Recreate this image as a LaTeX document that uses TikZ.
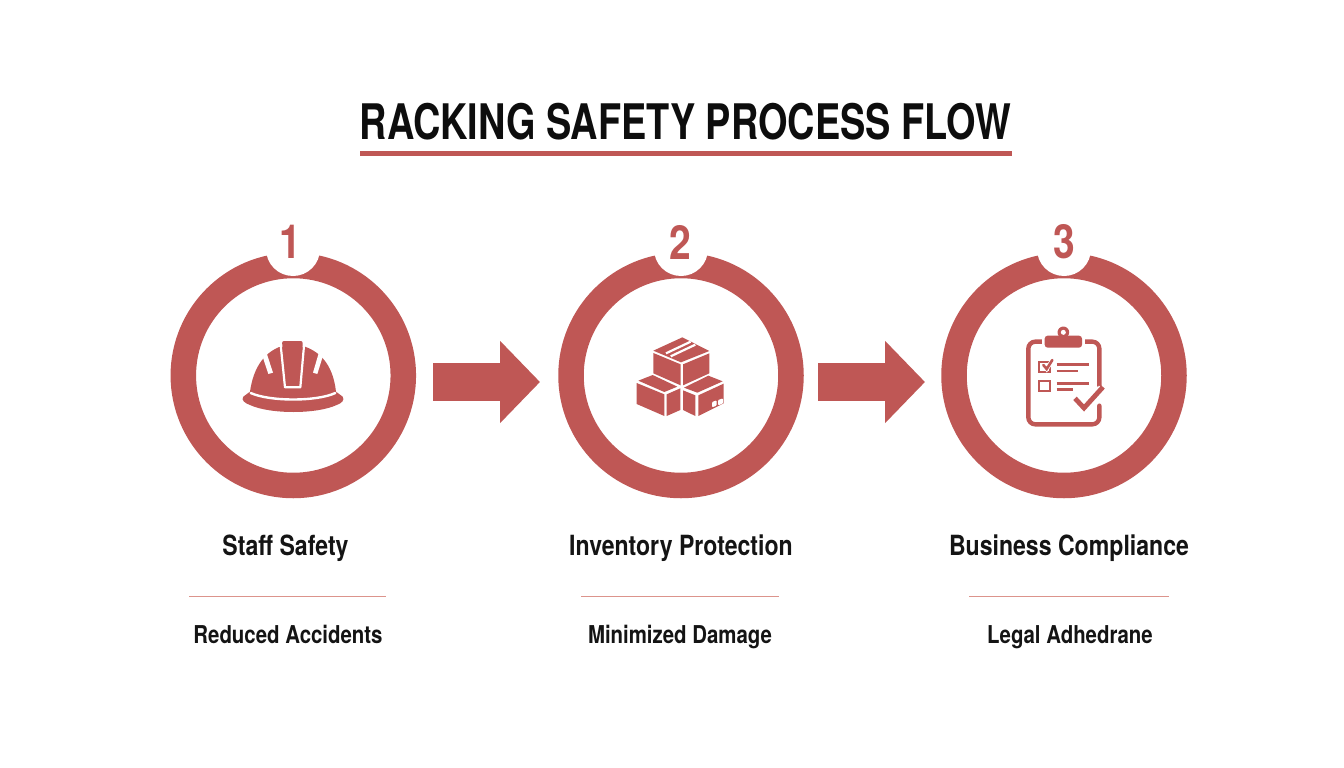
\documentclass[tikz,border=0pt]{standalone}
\usepackage{fontspec}
\setmainfont[FakeStretch=0.83]{TeX Gyre Heros}
\newfontfamily\titlefont[FakeStretch=0.773]{TeX Gyre Heros}
\usetikzlibrary{arrows.meta}
\definecolor{brick}{HTML}{BF5755}
\definecolor{rulered}{HTML}{DC948C}
\tikzset{
  ringnode/.style={circle,draw=brick,line width=25.5pt,minimum size=220pt,inner sep=0pt,outer sep=0pt},
  notchnode/.style={circle,fill=white,minimum size=54pt,inner sep=0pt,outer sep=0pt},
  numnode/.style={text=brick,font=\fontsize{47}{47}\selectfont\bfseries,inner sep=0pt},
  headnode/.style={anchor=base,text=black!92,font=\fontsize{27.8}{30}\selectfont\bfseries,inner sep=0pt},
  subnode/.style={anchor=base,text=black!92,font=\fontsize{24.6}{28}\selectfont\bfseries,inner sep=0pt},
  flow/.style={draw=brick,line width=38pt,-{Triangle[length=40pt,width=80pt]}},
  sep/.style={draw=rulered,line width=1pt},
  icon/.style={x=0.33333pt,y=-0.33333pt},
  cut/.style={draw=white,line width=2.2pt},
  inkline/.style={draw=brick,line cap=round},
}
\begin{document}
\begin{tikzpicture}[x=1pt,y=-1pt]
\useasboundingbox (0,0) rectangle (1344,768);
% title
\node[text=black!95,font=\fontsize{49}{52}\titlefont\bfseries,inner sep=0pt] (title) at (685.5,122) {RACKING SAFETY PROCESS FLOW};
\fill[brick] (360,151) rectangle (1012,156);
% rings
\node[ringnode] (r1) at (293.3,375.5) {};
\node[ringnode] (r2) at (681,375.5) {};
\node[ringnode] (r3) at (1064,375.5) {};
\node[notchnode] (n1) at (293,249) {};
\node[notchnode] (n2) at (681,249) {};
\node[notchnode] (n3) at (1064,249) {};
\node[numnode] (d1) at (290,242) {1};
\node[numnode] (d2) at (680,242) {2};
\node[numnode] (d3) at (1064,242) {3};
% arrows
\coordinate (a1s) at (433,382);
\coordinate (a1e) at (540,382);
\coordinate (a2s) at (818,382);
\coordinate (a2e) at (925,382);
\draw[flow] (a1s) -- (a1e);
\draw[flow] (a2s) -- (a2e);
% helmet
\begin{scope}[shift={(230,325)},icon]
\fill[brick] (60,200) .. controls (70,130) and (100,85) .. (150,65) -- (225,65) .. controls (280,85) and (310,130) .. (318,200)
  -- (338,215) .. controls (345,225) and (335,235) .. (320,240) .. controls (260,268) and (120,268) .. (60,240) .. controls (45,235) and (32,225) .. (40,215) -- cycle;
\fill[white] (97,92) -- (110,85) -- (129,143) -- (115,147) -- cycle;
\fill[white] (279,92) -- (266,85) -- (249,143) -- (262,147) -- cycle;
\draw[cut,line join=round] (151,50) -- (165,187) -- (211,187) -- (223,50);
\fill[white] (148,40) rectangle (160,66);
\fill[white] (214,40) rectangle (226,66);
\fill[brick,rounded corners=2pt] (156,48) -- (218,48) -- (218,62) -- (204,180) -- (172,180) -- (157,62) -- cycle;
\draw[white,line width=2.4pt,line cap=round] (62,204) .. controls (120,230) and (260,230) .. (316,204);
\end{scope}
% boxes
\begin{scope}[shift={(620,320)},icon]
\fill[brick] (100,92) -- (187,52) -- (268,93) -- (183,127) -- cycle;
\fill[brick] (100,99) -- (182,133) -- (182,196) -- (100,160) -- cycle;
\fill[brick] (189,133) -- (268,100) -- (268,160) -- (189,196) -- cycle;
\draw[white,line width=2.2pt] (138,100) -- (212,65);
\draw[white,line width=2.2pt] (152,109) -- (226,74);
\fill[brick] (55,182) -- (98,165) -- (172,200) -- (133,216) -- cycle;
\fill[brick] (50,189) -- (133,223) -- (133,288) -- (50,252) -- cycle;
\fill[brick] (140,223) -- (181,205) -- (181,270) -- (140,288) -- cycle;
\fill[brick] (192,203) -- (265,167) -- (308,184) -- (232,218) -- cycle;
\fill[brick] (189,211) -- (226,226) -- (226,288) -- (189,270) -- cycle;
\fill[brick] (235,226) -- (311,191) -- (311,250) -- (235,288) -- cycle;
\fill[white,rounded corners=1pt] (276,246) -- (290,241) -- (290,257) -- (276,262) -- cycle;
\fill[white,rounded corners=1pt] (294,240) -- (309,235) -- (309,251) -- (294,256) -- cycle;
\end{scope}
% clipboard
\begin{scope}[shift={(1010,315)},icon]
\draw[brick,line width=4.4pt,line cap=round,rounded corners=7pt] (268,212) -- (268,80) -- (55,80) -- (55,328) -- (268,328) -- (268,272);
\fill[white] (96,60) rectangle (224,104);
\fill[brick,rounded corners=3pt] (104,62) rectangle (216,98);
\fill[brick] (160,52) circle (17.5);
\fill[white] (160,52) circle (7.5);
\draw[brick,line width=2.2pt] (88,142) rectangle (120,172);
\draw[white,line width=4.2pt] (100,150) -- (110,162) -- (128,134);
\draw[inkline,line width=2.6pt] (100,150) -- (110,162) -- (127,135);
\draw[brick,line width=2.6pt] (140,148) -- (238,148);
\draw[brick,line width=2.6pt] (140,168) -- (205,168);
\draw[brick,line width=2.2pt] (88,198) rectangle (120,228);
\draw[brick,line width=2.6pt] (140,205) -- (238,205);
\draw[brick,line width=2.6pt] (140,224) -- (188,224);
\draw[white,line width=8pt] (198,252) -- (222,280) -- (276,220);
\draw[brick,line width=4.8pt] (195,250) -- (222,279) -- (279,216);
\end{scope}
% labels
\node[headnode] (h1) at (285.5,555) {Staff Safety};
\node[headnode] (h2) at (681,555) {Inventory Protection};
\node[headnode] (h3) at (1069,555) {Business Compliance};
\coordinate (l1a) at (189,596); \coordinate (l1b) at (386,596);
\coordinate (l2a) at (581,596); \coordinate (l2b) at (779,596);
\coordinate (l3a) at (969,596); \coordinate (l3b) at (1169,596);
\draw[sep] (l1a) -- (l1b);
\draw[sep] (l2a) -- (l2b);
\draw[sep] (l3a) -- (l3b);
\node[subnode] (s1) at (288,643.5) {Reduced Accidents};
\node[subnode] (s2) at (680,643.5) {Minimized Damage};
\node[subnode] (s3) at (1070,643.5) {Legal Adhedrane};
\end{tikzpicture}
\end{document}
